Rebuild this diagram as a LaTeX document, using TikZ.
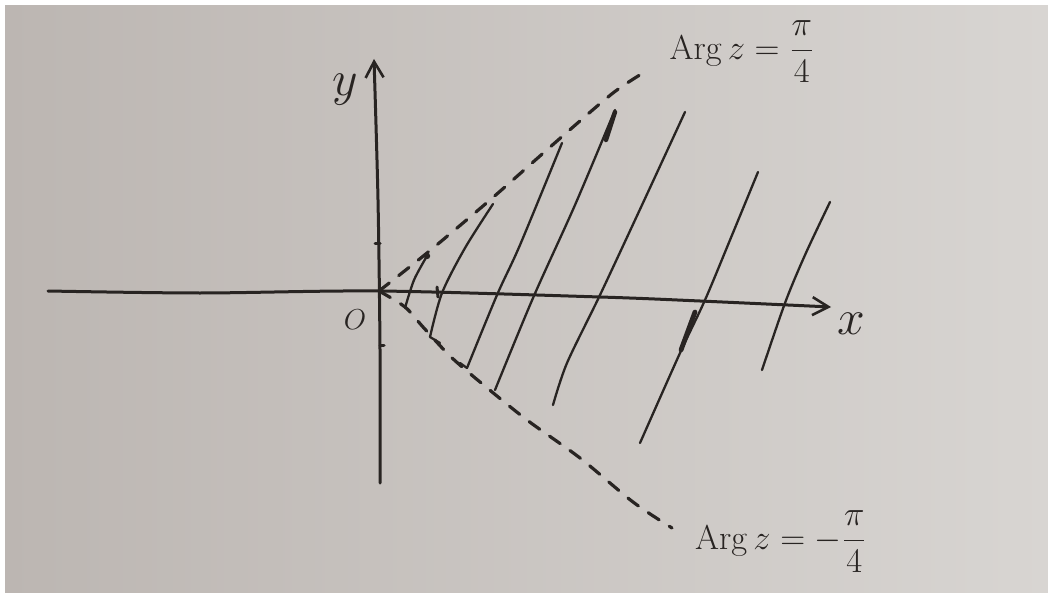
\documentclass[tikz,border=0pt]{standalone}
\usepackage{amsmath}
\usetikzlibrary{arrows.meta}
\definecolor{ink}{RGB}{40,36,34}
\definecolor{paperL}{RGB}{188,182,178}
\definecolor{paperM}{RGB}{208,203,199}
\definecolor{paperR}{RGB}{216,213,210}
\tikzset{
  axisline/.style={ink, line width=1.5pt, line cap=round, line join=round},
  axistip/.style={-{Straight Barb[length=8pt,width=9pt,line width=1.3pt]}},
  hatchline/.style={ink, line width=1.15pt, line cap=round, line join=round},
  boundary/.style={ink, line width=1.6pt, dash pattern=on 6.5pt off 6pt, line cap=round},
  lbl/.style={text=ink, inner sep=0pt},
}
\begin{document}
\begin{tikzpicture}[x=0.5pt,y=-0.5pt]
\useasboundingbox (0,0) rectangle (1048,593);
\fill[white] (0,0) rectangle (1048,593);
\shade[left color=paperL, middle color=paperM, right color=paperR] (5,6) rectangle (1048,593);

\coordinate (O) at (379,291);

% axes
\draw[axisline, axistip] plot[smooth] coordinates {(48,291) (200,293) (379,291) (600,297) (700,301) (831,307)};
\draw[axisline, axistip] plot[smooth] coordinates {(380,483) (380,350) (378,200) (374,59)};
\draw[axisline] (375,243) -- (380,243);
\draw[axisline] (380,345) -- (384,345);
\draw[axisline] (437,287) -- (438,297);

% boundary rays
\draw[boundary] plot[smooth] coordinates {(O) (427,253) (490,200) (557,141) (613,93) (648,70)};
\draw[boundary] plot[smooth] coordinates {(O) (405,307) (423,327) (450,356) (480,382) (527,420) (580,458) (633,502) (672,528)};

% hatching
\draw[hatchline] plot[smooth] coordinates {(427,256) (414,280) (405,308)};
\fill[ink] (427,256) circle (3.2);
\draw[hatchline] plot[smooth] coordinates {(493,204) (465,248) (442,293) (430,337)} -- (440,343);
\draw[hatchline] (460,363) -- (467,368);
\draw[hatchline] plot[smooth] coordinates {(562,143) (520,245) (497,295) (467,368)};
\draw[hatchline] plot[smooth] coordinates {(615,110) (575,205) (533,298) (495,390)};
\draw[ink, line width=2.2pt, line cap=round] (615,112) -- (606,140);
\draw[hatchline] plot[smooth] coordinates {(685,112) (642,205) (600,295) (567,363) (553,405)};
\draw[hatchline] plot[smooth] coordinates {(758,172) (730,240) (705,300) (680,353) (640,443)};
\draw[ink, line width=2.4pt, line cap=round] (695,312) -- (681,350);
\draw[hatchline] plot[smooth] coordinates {(830,202) (805,255) (785,303) (762,370)};

% labels
\node[lbl, font=\fontsize{16}{19}\selectfont] (lup) at (742,52) {$\mathrm{Arg}\,z=\dfrac{\pi}{4}$};
\node[lbl, font=\fontsize{17}{20}\selectfont] (llow) at (781,542) {$\mathrm{Arg}\,z=-\dfrac{\pi}{4}$};
\node[lbl, font=\fontsize{24}{28}\selectfont] (xl) at (851,324) {$x$};
\node[lbl, font=\fontsize{24}{28}\selectfont] (yl) at (345,90) {$y$};
\node[lbl, font=\fontsize{14}{16}\selectfont] (ol) at (355,320) {$O$};
\end{tikzpicture}
\end{document}
